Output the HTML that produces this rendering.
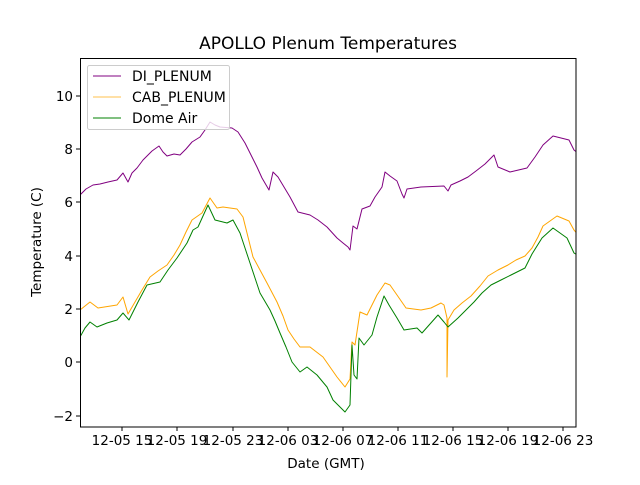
<!DOCTYPE html>
<html><head><meta charset="utf-8"><style>
html,body{margin:0;padding:0;background:#fff}
svg text{font-family:"DejaVu Sans","Liberation Sans",sans-serif;fill:#000}
</style></head><body>
<svg width="640" height="480" viewBox="0 0 640 480" xmlns="http://www.w3.org/2000/svg">
<rect width="640" height="480" fill="#fff"/>
<defs><clipPath id="c"><rect x="80" y="58" width="496" height="369"/></clipPath></defs>
<text x="328" y="49" font-size="17" text-anchor="middle">APOLLO Plenum Temperatures</text>
<g clip-path="url(#c)" fill="none" stroke-width="1" stroke-linejoin="round">
<polyline stroke="purple" points="80,195 86,189 93,185 100,184 108,182 117,180 123,173 128,182 132,173 137,168 143,160 152,151 159,146 163,152 167,156 174,154 180,155 186,149 192,142 200,137 205,130 210,122 215,125 220,127 232,128 238,132 245,143 251,155 257,167 262,178 269,190 273,172 278,177 284,187 290,197 298,212 310,215 318,220 327,227 337,238 343,243 348,247 350,250 353,226 357,229 362,209 370,206 375,197 382,187 385,172 390,176 397,181 402,194 404,198 407,189 421,187 444,186 448,191 451,185 460,181 468,177 476,171 485,164 494,155 498,167 510,172 527,168 535,157 543,145 553,136 569,140 574,150 579,154"/>
<polyline stroke="orange" points="80,310 90,302 98,308 117,305 123,297 128,314 135,302 142,290 150,277 158,271 167,265 174,255 180,245 186,232 192,220 202,213 210,198 217,208 223,207 237,209 243,217 248,237 253,257 260,270 267,283 277,302 283,316 288,330 294,339 300,347 310,347 323,357 330,367 337,377 345,387 350,379 352,342 355,345 360,312 367,315 372,305 377,295 385,283 390,285 397,295 406,308 421,310 431,308 441,303 444,305 447,318 447,377 448,320 454,310 462,303 471,296 480,286 488,276 498,270 508,265 516,260 525,256 532,248 538,237 543,226 550,221 557,216 569,221 574,230 579,236"/>
<polyline stroke="green" points="80,337 85,328 90,322 97,327 107,323 117,320 123,313 129,320 138,302 147,285 160,282 168,270 177,258 187,243 193,230 198,227 203,216 208,205 215,220 227,223 233,220 240,233 245,248 250,263 255,278 260,293 270,310 275,321 280,333 286,347 292,362 300,372 307,367 317,375 322,381 327,387 333,400 339,406 345,412 350,405 352,345 354,375 357,379 359,338 364,345 372,335 377,317 384,296 389,305 397,318 404,330 417,328 422,333 430,324 438,315 444,322 448,327 458,318 466,310 474,302 482,293 491,285 501,280 511,275 525,268 532,254 537,246 542,238 553,228 560,233 567,238 574,253 579,256"/>
</g>
<rect x="80.5" y="58.5" width="495.5" height="368.5" fill="none" stroke="#000" stroke-width="1"/>
<g stroke="#000" stroke-width="1">
<line x1="76" x2="80" y1="96" y2="96"/><line x1="76" x2="80" y1="149" y2="149"/><line x1="76" x2="80" y1="202" y2="202"/><line x1="76" x2="80" y1="256" y2="256"/><line x1="76" x2="80" y1="309" y2="309"/><line x1="76" x2="80" y1="362" y2="362"/><line x1="76" x2="80" y1="416" y2="416"/>
<line y1="427" y2="431" x1="122" x2="122"/><line y1="427" y2="431" x1="177" x2="177"/><line y1="427" y2="431" x1="233" x2="233"/><line y1="427" y2="431" x1="288" x2="288"/><line y1="427" y2="431" x1="343" x2="343"/><line y1="427" y2="431" x1="398" x2="398"/><line y1="427" y2="431" x1="453" x2="453"/><line y1="427" y2="431" x1="508" x2="508"/><line y1="427" y2="431" x1="563" x2="563"/>
</g>
<g font-size="13.5" text-anchor="end">
<text x="73" y="101">10</text><text x="73" y="154">8</text><text x="73" y="207">6</text><text x="73" y="261">4</text><text x="73" y="314">2</text><text x="73" y="367">0</text><text x="73" y="421">−2</text>
</g>
<g font-size="13.5" text-anchor="middle">
<text x="122" y="445">12-05 15</text><text x="177" y="445">12-05 19</text><text x="233" y="445">12-05 23</text><text x="288" y="445">12-06 03</text><text x="343" y="445">12-06 07</text><text x="398" y="445">12-06 11</text><text x="453" y="445">12-06 15</text><text x="508" y="445">12-06 19</text><text x="563" y="445">12-06 23</text>
</g>
<text x="326" y="468" font-size="13.5" text-anchor="middle">Date (GMT)</text>
<text transform="translate(41,242) rotate(-90)" font-size="13.5" text-anchor="middle">Temperature (C)</text>
<rect x="87.5" y="65.5" width="142" height="64" rx="2" fill="#fff" fill-opacity="0.8" stroke="#ccc"/>
<line x1="93" x2="121" y1="76" y2="76" stroke="purple"/>
<line x1="93" x2="121" y1="97" y2="97" stroke="orange" stroke-opacity="0.7"/>
<line x1="93" x2="121" y1="118" y2="118" stroke="green"/>
<g font-size="14"><text x="132" y="81">DI_PLENUM</text><text x="132" y="102">CAB_PLENUM</text><text x="132" y="123">Dome Air</text></g>
</svg>
</body></html>
